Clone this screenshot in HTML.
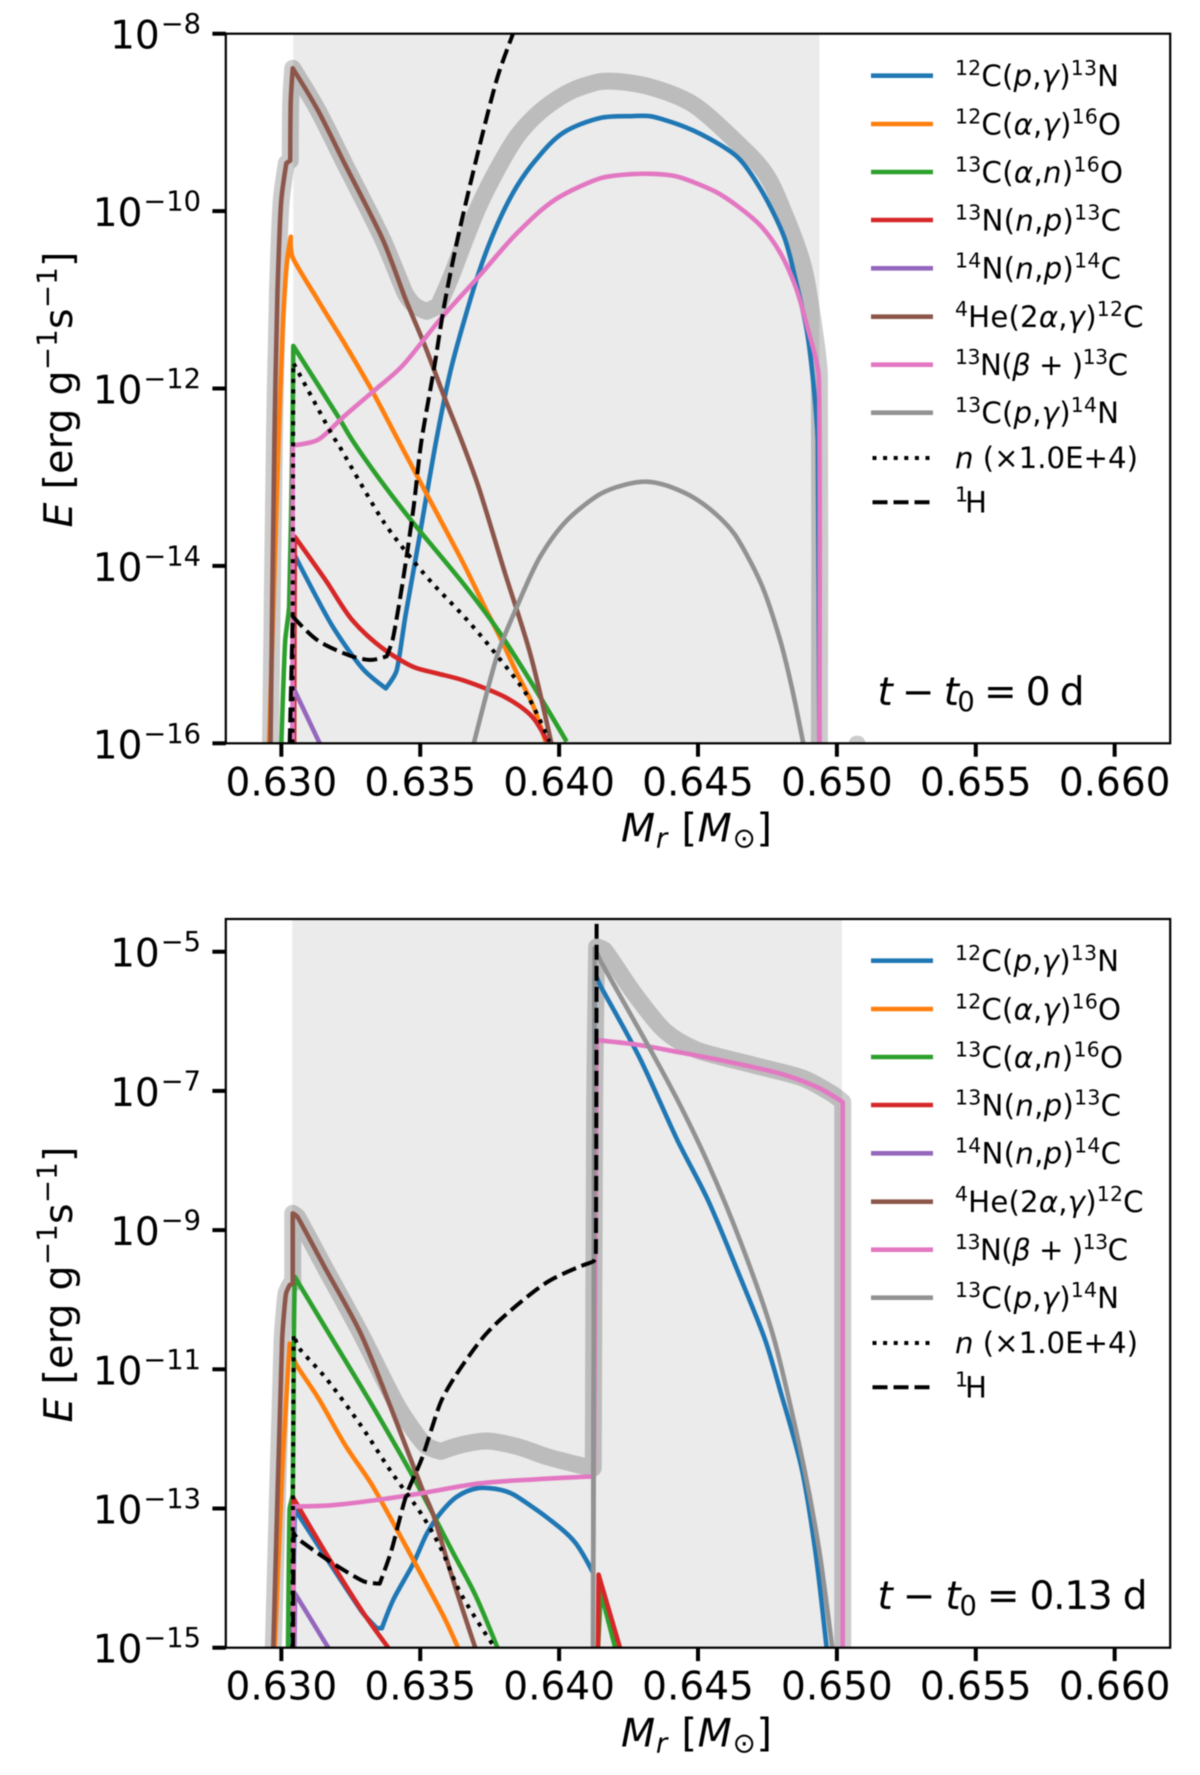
<!DOCTYPE html>
<html lang="en">
<head>
<meta charset="utf-8">
<title>Nuclear energy generation profiles</title>
<style>
html,body{margin:0;padding:0;background:#fff;}
svg{display:block;filter:blur(0.45px);}
text{font-family:"DejaVu Sans","Liberation Sans",sans-serif;fill:#000;}
.i{font-style:italic;}
</style>
</head>
<body>
<svg id="chart" xmlns="http://www.w3.org/2000/svg" width="1200" height="1775" viewBox="0 0 1200 1775">
<g id="plot-layer"></g>

<text transform="translate(72,389.5) rotate(-90)" text-anchor="middle" font-size="39.6" textLength="276"><tspan class="i">E</tspan> [erg g<tspan font-size="27.7" dy="-15.5">−1</tspan><tspan dy="15.5">s</tspan><tspan font-size="27.7" dy="-15.5">−1</tspan><tspan dy="15.5">]</tspan></text>
<text transform="translate(696.5,841.7)" text-anchor="middle" font-size="39.6" textLength="151"><tspan class="i">M</tspan><tspan class="i" font-size="27.7" dy="6">r</tspan><tspan dy="-6"> [</tspan><tspan class="i">M</tspan><tspan font-size="27.7" dy="6">⊙</tspan><tspan dy="-6">]</tspan></text>
<text x="877.5" y="705" font-size="39" textLength="207"><tspan class="i">t</tspan> − <tspan class="i">t</tspan><tspan font-size="27.3" dy="6">0</tspan><tspan dy="-6"> = 0 d</tspan></text>

<text transform="translate(72,1284.5) rotate(-90)" text-anchor="middle" font-size="39.6" textLength="276"><tspan class="i">E</tspan> [erg g<tspan font-size="27.7" dy="-15.5">−1</tspan><tspan dy="15.5">s</tspan><tspan font-size="27.7" dy="-15.5">−1</tspan><tspan dy="15.5">]</tspan></text>
<text transform="translate(696.5,1746.7)" text-anchor="middle" font-size="39.6" textLength="151"><tspan class="i">M</tspan><tspan class="i" font-size="27.7" dy="6">r</tspan><tspan dy="-6"> [</tspan><tspan class="i">M</tspan><tspan font-size="27.7" dy="6">⊙</tspan><tspan dy="-6">]</tspan></text>
<text x="877.5" y="1609" font-size="39" textLength="270"><tspan class="i">t</tspan> − <tspan class="i">t</tspan><tspan font-size="27.3" dy="6">0</tspan><tspan dy="-6"> = 0.13 d</tspan></text>

<g font-size="29.2">
<line x1="871" x2="933" y1="75.7" y2="75.7" stroke="#1f77b4" stroke-width="4.6"/>
<text x="955" y="86" textLength="164"><tspan font-size="20.4" dy="-11">12</tspan><tspan dy="11">C(</tspan><tspan class="i">p</tspan>,<tspan class="i">γ</tspan>)<tspan font-size="20.4" dy="-11">13</tspan><tspan dy="11">N</tspan></text>
<line x1="871" x2="933" y1="124" y2="124" stroke="#ff7f0e" stroke-width="4.6"/>
<text x="955" y="134.3" textLength="166"><tspan font-size="20.4" dy="-11">12</tspan><tspan dy="11">C(</tspan><tspan class="i">α</tspan>,<tspan class="i">γ</tspan>)<tspan font-size="20.4" dy="-11">16</tspan><tspan dy="11">O</tspan></text>
<line x1="871" x2="933" y1="172" y2="172" stroke="#2ca02c" stroke-width="4.6"/>
<text x="955" y="182.3" textLength="168"><tspan font-size="20.4" dy="-11">13</tspan><tspan dy="11">C(</tspan><tspan class="i">α</tspan>,<tspan class="i">n</tspan>)<tspan font-size="20.4" dy="-11">16</tspan><tspan dy="11">O</tspan></text>
<line x1="871" x2="933" y1="220" y2="220" stroke="#d62728" stroke-width="4.6"/>
<text x="955" y="230.3" textLength="166"><tspan font-size="20.4" dy="-11">13</tspan><tspan dy="11">N(</tspan><tspan class="i">n</tspan>,<tspan class="i">p</tspan>)<tspan font-size="20.4" dy="-11">13</tspan><tspan dy="11">C</tspan></text>
<line x1="871" x2="933" y1="268.3" y2="268.3" stroke="#9467bd" stroke-width="4.6"/>
<text x="955" y="278.6" textLength="166"><tspan font-size="20.4" dy="-11">14</tspan><tspan dy="11">N(</tspan><tspan class="i">n</tspan>,<tspan class="i">p</tspan>)<tspan font-size="20.4" dy="-11">14</tspan><tspan dy="11">C</tspan></text>
<line x1="871" x2="933" y1="316.7" y2="316.7" stroke="#8c564b" stroke-width="4.6"/>
<text x="955" y="327" textLength="188.5"><tspan font-size="20.4" dy="-11">4</tspan><tspan dy="11">He(2</tspan><tspan class="i">α</tspan>,<tspan class="i">γ</tspan>)<tspan font-size="20.4" dy="-11">12</tspan><tspan dy="11">C</tspan></text>
<line x1="871" x2="933" y1="364.7" y2="364.7" stroke="#e377c2" stroke-width="4.6"/>
<text x="955" y="375" textLength="173"><tspan font-size="20.4" dy="-11">13</tspan><tspan dy="11">N(</tspan><tspan class="i">β</tspan> + )<tspan font-size="20.4" dy="-11">13</tspan><tspan dy="11">C</tspan></text>
<line x1="871" x2="933" y1="412.7" y2="412.7" stroke="#929292" stroke-width="4.6"/>
<text x="955" y="423" textLength="164"><tspan font-size="20.4" dy="-11">13</tspan><tspan dy="11">C(</tspan><tspan class="i">p</tspan>,<tspan class="i">γ</tspan>)<tspan font-size="20.4" dy="-11">14</tspan><tspan dy="11">N</tspan></text>
<line x1="872.5" x2="930" y1="458" y2="458" stroke="#000" stroke-width="4" stroke-dasharray="4 6.6"/>
<text x="955" y="468" textLength="183"><tspan class="i">n</tspan> (×1.0E+4)</text>
<line x1="872.5" x2="930" y1="502.3" y2="502.3" stroke="#000" stroke-width="4" stroke-dasharray="15 6"/>
<text x="955" y="512.5" textLength="32"><tspan font-size="20.4" dy="-11">1</tspan><tspan dy="11">H</tspan></text>
</g>

<g font-size="29.2" transform="translate(0,885)">
<line x1="871" x2="933" y1="75.7" y2="75.7" stroke="#1f77b4" stroke-width="4.6"/>
<text x="955" y="86" textLength="164"><tspan font-size="20.4" dy="-11">12</tspan><tspan dy="11">C(</tspan><tspan class="i">p</tspan>,<tspan class="i">γ</tspan>)<tspan font-size="20.4" dy="-11">13</tspan><tspan dy="11">N</tspan></text>
<line x1="871" x2="933" y1="124" y2="124" stroke="#ff7f0e" stroke-width="4.6"/>
<text x="955" y="134.3" textLength="166"><tspan font-size="20.4" dy="-11">12</tspan><tspan dy="11">C(</tspan><tspan class="i">α</tspan>,<tspan class="i">γ</tspan>)<tspan font-size="20.4" dy="-11">16</tspan><tspan dy="11">O</tspan></text>
<line x1="871" x2="933" y1="172" y2="172" stroke="#2ca02c" stroke-width="4.6"/>
<text x="955" y="182.3" textLength="168"><tspan font-size="20.4" dy="-11">13</tspan><tspan dy="11">C(</tspan><tspan class="i">α</tspan>,<tspan class="i">n</tspan>)<tspan font-size="20.4" dy="-11">16</tspan><tspan dy="11">O</tspan></text>
<line x1="871" x2="933" y1="220" y2="220" stroke="#d62728" stroke-width="4.6"/>
<text x="955" y="230.3" textLength="166"><tspan font-size="20.4" dy="-11">13</tspan><tspan dy="11">N(</tspan><tspan class="i">n</tspan>,<tspan class="i">p</tspan>)<tspan font-size="20.4" dy="-11">13</tspan><tspan dy="11">C</tspan></text>
<line x1="871" x2="933" y1="268.3" y2="268.3" stroke="#9467bd" stroke-width="4.6"/>
<text x="955" y="278.6" textLength="166"><tspan font-size="20.4" dy="-11">14</tspan><tspan dy="11">N(</tspan><tspan class="i">n</tspan>,<tspan class="i">p</tspan>)<tspan font-size="20.4" dy="-11">14</tspan><tspan dy="11">C</tspan></text>
<line x1="871" x2="933" y1="316.7" y2="316.7" stroke="#8c564b" stroke-width="4.6"/>
<text x="955" y="327" textLength="188.5"><tspan font-size="20.4" dy="-11">4</tspan><tspan dy="11">He(2</tspan><tspan class="i">α</tspan>,<tspan class="i">γ</tspan>)<tspan font-size="20.4" dy="-11">12</tspan><tspan dy="11">C</tspan></text>
<line x1="871" x2="933" y1="364.7" y2="364.7" stroke="#e377c2" stroke-width="4.6"/>
<text x="955" y="375" textLength="173"><tspan font-size="20.4" dy="-11">13</tspan><tspan dy="11">N(</tspan><tspan class="i">β</tspan> + )<tspan font-size="20.4" dy="-11">13</tspan><tspan dy="11">C</tspan></text>
<line x1="871" x2="933" y1="412.7" y2="412.7" stroke="#929292" stroke-width="4.6"/>
<text x="955" y="423" textLength="164"><tspan font-size="20.4" dy="-11">13</tspan><tspan dy="11">C(</tspan><tspan class="i">p</tspan>,<tspan class="i">γ</tspan>)<tspan font-size="20.4" dy="-11">14</tspan><tspan dy="11">N</tspan></text>
<line x1="872.5" x2="930" y1="458" y2="458" stroke="#000" stroke-width="4" stroke-dasharray="4 6.6"/>
<text x="955" y="468" textLength="183"><tspan class="i">n</tspan> (×1.0E+4)</text>
<line x1="872.5" x2="930" y1="502.3" y2="502.3" stroke="#000" stroke-width="4" stroke-dasharray="15 6"/>
<text x="955" y="512.5" textLength="32"><tspan font-size="20.4" dy="-11">1</tspan><tspan dy="11">H</tspan></text>
</g>
</svg>

<script>
// Shared x axis
const xTickValues = [0.630, 0.635, 0.640, 0.645, 0.650, 0.655, 0.660];
const xTickLabels = ["0.630", "0.635", "0.640", "0.645", "0.650", "0.655", "0.660"];

// Top panel: ticks (log10 E) and shaded convective zone (mass)
const yTicksTop = [-8, -10, -12, -14, -16];
const yTickLabelsTop = ["−8", "−10", "−12", "−14", "−16"];
const shadeTop = [0.63043, 0.64937];

// Top panel series: mass coordinate and log10(E)
const massTotalTop = [.62961,.62975,.62986,.63,.63018,.63032,.63034,.63041,.63131,.63227,.63365,.63448,.63482,.63524,.63565,.63607,.63662,.6371,.63779,.63848,.63917,.63986,.64055,.64148,.64217,.64328,.64479,.64631,.64741,.6481,.64879,.64913,.64937,.64937];
const logTotalTop = [-16,-12.58,-10.92,-9.87,-9.46,-9.43,-8.75,-8.39,-8.86,-9.46,-10.32,-10.94,-11.07,-11.13,-11.07,-10.77,-10.32,-9.95,-9.52,-9.16,-8.92,-8.75,-8.63,-8.54,-8.54,-8.6,-8.79,-9.2,-9.57,-10.02,-10.62,-11.22,-11.83,-16];
const massTotalBumpTop = [.6507,.65076];
const logTotalBumpTop = [-16,-16];
const massBlueTop = [.63041,.63048,.63186,.63296,.63376,.63414,.63448,.63489,.63558,.63613,.6371,.63779,.63848,.63917,.64013,.64148,.64259,.64328,.64452,.64562,.64645,.64727,.6481,.64851,.64893,.6492,.64931,.64937];
const logBlueTop = [-16,-13.88,-14.69,-15.17,-15.38,-15.19,-14.54,-13.82,-12.58,-11.75,-10.7,-10.14,-9.72,-9.42,-9.12,-8.95,-8.93,-8.93,-9.05,-9.22,-9.4,-9.76,-10.29,-10.77,-11.37,-12.09,-12.58,-16];
const massOrangeTop = [.62956,.6299,.63007,.63021,.63034,.63039,.63131,.63227,.63324,.6342,.63503,.63586,.63655,.63738,.63793,.63848,.63903,.63951];
const logOrangeTop = [-16,-12.58,-11.19,-10.55,-10.29,-10.51,-11,-11.49,-12.01,-12.58,-13.07,-13.56,-13.97,-14.5,-14.84,-15.21,-15.55,-15.98];
const massGreenTop = [.63,.63014,.63028,.6304,.63043,.63207,.63255,.63365,.63476,.63655,.63779,.63903,.64027];
const logGreenTop = [-16,-14.84,-14.46,-12.5,-11.52,-12.33,-12.58,-13.07,-13.52,-14.2,-14.72,-15.33,-15.98];
const massRedTop = [.63046,.63048,.63159,.63255,.63365,.63476,.63558,.63655,.63806,.63903,.63958];
const logRedTop = [-16,-13.67,-14.16,-14.61,-14.93,-15.14,-15.21,-15.29,-15.48,-15.7,-15.98];
const massPurpleTop = [.6304,.63041,.63138];
const logPurpleTop = [-16,-15.36,-16];
const massBrownTop = [.62961,.62975,.62986,.63,.63018,.63032,.63034,.63041,.63131,.63227,.63365,.63448,.63517,.63586,.63648,.6371,.63806,.63896,.63972];
const logBrownTop = [-16,-12.58,-10.92,-9.87,-9.46,-9.43,-8.75,-8.39,-8.86,-9.46,-10.32,-11,-11.52,-12.09,-12.58,-13.11,-14.09,-14.99,-16];
const massPinkTop = [.6304,.63041,.63131,.63227,.63324,.63434,.63572,.6371,.63848,.63986,.64148,.64231,.64328,.64424,.64562,.64645,.64727,.64796,.64851,.64893,.64934,.64937];
const logPinkTop = [-16,-12.64,-12.58,-12.31,-12.05,-11.75,-11.22,-10.74,-10.25,-9.87,-9.63,-9.59,-9.58,-9.61,-9.78,-9.95,-10.17,-10.47,-10.85,-11.3,-11.83,-16];
const massGrayTop = [.63693,.63779,.63848,.63931,.64027,.64148,.64231,.64314,.64383,.64479,.64562,.64631,.64727,.64796,.64837,.64879];
const logGrayTop = [-16,-14.99,-14.46,-13.9,-13.49,-13.19,-13.09,-13.05,-13.09,-13.22,-13.41,-13.64,-14.2,-14.84,-15.36,-16];
const massNeutronTop = [.6304,.63043,.63186,.63207,.63365,.63469,.63545,.63669,.63779,.63889,.63965];
const logNeutronTop = [-16,-11.71,-12.54,-12.64,-13.49,-13.92,-14.2,-14.61,-15.02,-15.48,-15.98];
const massHydrogenTop = [.6303,.63041,.63131,.63255,.63324,.63379,.634,.63434,.63476,.63503,.63551,.63586,.63634,.6371,.63779,.63834];
const logHydrogenTop = [-16,-14.57,-14.84,-15.02,-15.06,-15.02,-14.84,-14.24,-13.34,-12.62,-11.75,-11.07,-10.32,-9.31,-8.48,-8];

// Bottom panel: ticks and shaded zone
const yTicksBottom = [-5, -7, -9, -11, -13, -15];
const yTickLabelsBottom = ["−5", "−7", "−9", "−11", "−13", "−15"];
const shadeBottom = [0.63039, 0.65018];

// Bottom panel series
const massTotalBottom = [.62971,.63003,.63017,.6303,.63041,.63041,.63058,.63161,.63285,.63423,.63519,.63574,.63643,.6374,.6385,.6396,.64098,.64123,.64128,.64135,.64164,.64274,.64384,.64494,.64701,.6488,.6499,.65021,.65021];
const logTotalBottom = [-15,-10.55,-9.91,-9.79,-9.77,-8.76,-8.81,-9.57,-10.48,-11.56,-12.09,-12.18,-12.09,-12.03,-12.11,-12.26,-12.4,-12.42,-7.13,-4.93,-4.98,-5.62,-6.15,-6.41,-6.63,-6.82,-7.06,-7.16,-15];
const massBlueBottom = [.6304,.63048,.63055,.63175,.63295,.63344,.63362,.63403,.63475,.63524,.63572,.63632,.63704,.63788,.63836,.6396,.64056,.64123,.64128,.6415,.64288,.64426,.64536,.64646,.64742,.64797,.64873,.64921,.64963];
const logBlueBottom = [-15,-13,-13.05,-13.79,-14.51,-14.72,-14.72,-14.31,-13.79,-13.36,-13.07,-12.83,-12.71,-12.73,-12.8,-13.14,-13.48,-13.93,-5.3,-5.5,-6.51,-7.71,-8.57,-9.62,-10.58,-11.32,-12.42,-13.57,-15];
const massOrangeBottom = [.62976,.63004,.63017,.6303,.63051,.63134,.6323,.63326,.63478,.63588,.63636];
const logOrangeBottom = [-15,-12.4,-11.47,-10.63,-10.91,-11.42,-12.09,-12.66,-13.76,-14.58,-15];
const massGreenBottom = [.63024,.6303,.63041,.63045,.63048,.63175,.63326,.63478,.63616,.63698,.63778];
const logGreenBottom = [-15,-13,-12.8,-10.5,-9.67,-10.51,-11.51,-12.57,-13.62,-14.24,-15];
const massGreenSpikeBottom = [.6414,.6415,.64202];
const logGreenSpikeBottom = [-15,-14.2,-15];
const massRedBottom = [.63043,.63043,.63175,.63295,.63385];
const logRedBottom = [-15,-12.85,-13.74,-14.5,-15];
const massRedSpikeBottom = [.6414,.64142,.64219];
const logRedSpikeBottom = [-15,-13.95,-15];
const massPurpleBottom = [.63047,.63049,.63169];
const logPurpleBottom = [-15,-14.22,-15];
const massBrownBottom = [.62971,.63003,.63017,.6303,.63041,.63041,.63058,.63161,.63285,.63395,.63506,.63547,.63616,.63698];
const logBrownBottom = [-15,-10.55,-9.91,-9.79,-9.77,-8.76,-8.81,-9.57,-10.48,-11.56,-12.71,-13.09,-14,-15];
const massPinkBottom = [.63044,.63044,.63066,.63189,.6334,.63506,.63712,.63919,.64118,.64125,.64135,.64288,.64426,.64632,.64812,.64936,.65021,.65021];
const logPinkBottom = [-15,-12.97,-12.97,-12.95,-12.88,-12.78,-12.64,-12.58,-12.54,-12.54,-6.27,-6.34,-6.44,-6.6,-6.77,-6.96,-7.16,-15];
const massGrayBottom = [.64122,.64128,.6415,.64329,.64426,.64536,.6466,.6477,.6488,.64935,.64983];
const logGrayBottom = [-15,-4.95,-5.14,-6.41,-7.13,-8.04,-9.24,-10.51,-12.38,-13.57,-15];
const massNeutronBottom = [.6304,.63044,.63065,.63161,.63285,.63395,.63506,.63574,.63643,.63753,.6377];
const logNeutronBottom = [-15,-10.5,-10.7,-11.13,-11.8,-12.47,-13.09,-13.57,-14.2,-14.91,-15];
const massHydrogenBottom = [.63042,.63044,.63058,.63175,.63299,.63354,.63395,.6345,.63506,.63574,.63629,.63733,.63836,.6396,.6407,.64123,.64132,.64135];
const logHydrogenBottom = [-15,-13.35,-13.43,-13.76,-14.05,-14.08,-13.62,-12.81,-12.28,-11.47,-11.08,-10.51,-10.12,-9.74,-9.53,-9.45,-9.4,-4.4];

const SVGNS = 'http://www.w3.org/2000/svg';
const layer = document.getElementById('plot-layer');

function makeAxes(frame) {
  return {
    frame: frame,
    x: function (m) { return frame.left + (m - frame.xMin) / (frame.xMax - frame.xMin) * (frame.right - frame.left); },
    y: function (v) { return frame.bottom - (v - frame.yMin) / (frame.yMax - frame.yMin) * (frame.bottom - frame.top); }
  };
}

const axesTop = makeAxes({ left: 225.8, right: 1170.2, top: 33.7, bottom: 743.3, xMin: 0.628, xMax: 0.662, yMin: -16, yMax: -8 });
const axesBottom = makeAxes({ left: 225.8, right: 1170.2, top: 919, bottom: 1647.7, xMin: 0.628, xMax: 0.662, yMin: -15, yMax: -4.53 });

// Smooth path through the read-off points; sharp corners stay sharp and
// handle lengths are limited by the shorter neighbouring segment so long
// straight runs next to a short step do not bulge.
function smoothPath(pts) {
  const segs = [];
  for (let i = 1; i < pts.length; i++) {
    segs.push(Math.hypot(pts[i][0] - pts[i - 1][0], pts[i][1] - pts[i - 1][1]));
  }
  const tangents = pts.map(function (p, i) {
    if (i === 0 || i === pts.length - 1) return null;
    const a = pts[i - 1], b = pts[i + 1];
    const ax = p[0] - a[0], ay = p[1] - a[1], bx = b[0] - p[0], by = b[1] - p[1];
    const la = segs[i - 1], lb = segs[i];
    if (la < 1e-6 || lb < 1e-6) return null;
    const cos = (ax * bx + ay * by) / (la * lb);
    if (cos < Math.cos(40 * Math.PI / 180)) return null;
    const tx = ax / la + bx / lb, ty = ay / la + by / lb;
    const l = Math.hypot(tx, ty);
    return [tx / l, ty / l];
  });
  let d = 'M' + pts[0][0].toFixed(2) + ' ' + pts[0][1].toFixed(2);
  for (let i = 1; i < pts.length; i++) {
    const p0 = pts[i - 1], p1 = pts[i];
    const here = segs[i - 1];
    const len0 = Math.min(here, i >= 2 ? segs[i - 2] : here) / 3;
    const len1 = Math.min(here, i < segs.length ? segs[i] : here) / 3;
    const t0 = tangents[i - 1], t1 = tangents[i];
    const c0 = t0 ? [p0[0] + t0[0] * len0, p0[1] + t0[1] * len0] : p0;
    const c1 = t1 ? [p1[0] - t1[0] * len1, p1[1] - t1[1] * len1] : p1;
    d += 'C' + c0[0].toFixed(2) + ' ' + c0[1].toFixed(2) + ' ' + c1[0].toFixed(2) + ' ' + c1[1].toFixed(2) + ' ' + p1[0].toFixed(2) + ' ' + p1[1].toFixed(2);
  }
  return d;
}

function drawSeries(group, axes, masses, logs, seriesName, color, width, dash, cap) {
  const pts = masses.map(function (m, i) { return [axes.x(m), axes.y(logs[i])]; });
  const path = document.createElementNS(SVGNS, 'path');
  path.setAttribute('d', smoothPath(pts));
  path.setAttribute('fill', 'none');
  path.setAttribute('stroke', color);
  path.setAttribute('stroke-width', width);
  path.setAttribute('stroke-linejoin', 'round');
  path.setAttribute('stroke-linecap', cap || 'butt');
  if (dash) path.setAttribute('stroke-dasharray', dash);
  
  
  group.appendChild(path);
}

function drawPanel(axes, clipId, suffix, shade, yTicks, yTickLabels, seriesDraw) {
  const f = axes.frame;
  const defs = document.createElementNS(SVGNS, 'clipPath');
  defs.setAttribute('id', clipId);
  const clipRect = document.createElementNS(SVGNS, 'rect');
  clipRect.setAttribute('x', f.left);
  clipRect.setAttribute('y', f.top);
  clipRect.setAttribute('width', f.right - f.left);
  clipRect.setAttribute('height', f.bottom - f.top);
  defs.appendChild(clipRect);
  layer.appendChild(defs);

  const panel = document.createElementNS(SVGNS, 'g');
  
  
  layer.appendChild(panel);

  const band = document.createElementNS(SVGNS, 'rect');
  band.setAttribute('x', axes.x(shade[0]));
  band.setAttribute('y', f.top);
  band.setAttribute('width', axes.x(shade[1]) - axes.x(shade[0]));
  band.setAttribute('height', f.bottom - f.top);
  band.setAttribute('fill', '#000');
  band.setAttribute('fill-opacity', '0.08');
  
  
  panel.appendChild(band);

  const marks = document.createElementNS(SVGNS, 'g');
  marks.setAttribute('clip-path', 'url(#' + clipId + ')');
  
  
  panel.appendChild(marks);
  seriesDraw(marks);

  const spine = document.createElementNS(SVGNS, 'rect');
  spine.setAttribute('x', f.left);
  spine.setAttribute('y', f.top);
  spine.setAttribute('width', f.right - f.left);
  spine.setAttribute('height', f.bottom - f.top);
  spine.setAttribute('fill', 'none');
  spine.setAttribute('stroke', '#000');
  spine.setAttribute('stroke-width', '2.2');
  
  
  panel.appendChild(spine);

  xTickValues.forEach(function (v, i) {
    const px = axes.x(v);
    const tick = document.createElementNS(SVGNS, 'line');
    tick.setAttribute('x1', px);
    tick.setAttribute('x2', px);
    tick.setAttribute('y1', f.bottom);
    tick.setAttribute('y2', f.bottom + 13.4);
    tick.setAttribute('stroke', '#000');
    tick.setAttribute('stroke-width', '4');
    
    
    panel.appendChild(tick);
    const label = document.createElementNS(SVGNS, 'text');
    label.setAttribute('x', px);
    label.setAttribute('y', f.bottom + 52);
    label.setAttribute('text-anchor', 'middle');
    label.setAttribute('font-size', '39');
    label.textContent = xTickLabels[i];
    
    
    panel.appendChild(label);
  });

  yTicks.forEach(function (v, i) {
    const py = axes.y(v);
    const tick = document.createElementNS(SVGNS, 'line');
    tick.setAttribute('x1', f.left - 13.4);
    tick.setAttribute('x2', f.left);
    tick.setAttribute('y1', py);
    tick.setAttribute('y2', py);
    tick.setAttribute('stroke', '#000');
    tick.setAttribute('stroke-width', '4');
    
    
    panel.appendChild(tick);
    const label = document.createElementNS(SVGNS, 'text');
    label.setAttribute('x', 201);
    label.setAttribute('y', py + 15);
    label.setAttribute('text-anchor', 'end');
    label.setAttribute('font-size', '39');
    label.appendChild(document.createTextNode('10'));
    const sup = document.createElementNS(SVGNS, 'tspan');
    sup.setAttribute('font-size', '27.3');
    sup.setAttribute('dy', '-15.5');
    sup.setAttribute('dx', '1');
    sup.textContent = yTickLabels[i];
    label.appendChild(sup);
    
    
    panel.appendChild(label);
  });
}

const COLOR_TOTAL = 'rgba(0,0,0,0.2)';
const W = 4.6;

drawPanel(axesTop, 'clip-top', 'top', shadeTop, yTicksTop, yTickLabelsTop, function (g) {
  drawSeries(g, axesTop, massTotalTop, logTotalTop, 'total-energy-line', COLOR_TOTAL, 17);
  drawSeries(g, axesTop, massTotalBumpTop, logTotalBumpTop, 'total-energy-bump', COLOR_TOTAL, 15, null, 'round');
  drawSeries(g, axesTop, massBlueTop, logBlueTop, 'line-12c-pg', '#1f77b4', W);
  drawSeries(g, axesTop, massOrangeTop, logOrangeTop, 'line-12c-ag', '#ff7f0e', W);
  drawSeries(g, axesTop, massGreenTop, logGreenTop, 'line-13c-an', '#2ca02c', W);
  drawSeries(g, axesTop, massRedTop, logRedTop, 'line-13n-np', '#d62728', W);
  drawSeries(g, axesTop, massPurpleTop, logPurpleTop, 'line-14n-np', '#9467bd', W);
  drawSeries(g, axesTop, massBrownTop, logBrownTop, 'line-4he-2ag', '#8c564b', W);
  drawSeries(g, axesTop, massPinkTop, logPinkTop, 'line-13n-beta', '#e377c2', W);
  drawSeries(g, axesTop, massGrayTop, logGrayTop, 'line-13c-pg', '#929292', W);
  drawSeries(g, axesTop, massNeutronTop, logNeutronTop, 'line-neutron', '#000', 4, '4 6.6');
  drawSeries(g, axesTop, massHydrogenTop, logHydrogenTop, 'line-hydrogen', '#000', 4, '15 6');
});

drawPanel(axesBottom, 'clip-bottom', 'bottom', shadeBottom, yTicksBottom, yTickLabelsBottom, function (g) {
  drawSeries(g, axesBottom, massTotalBottom, logTotalBottom, 'total-energy-line', COLOR_TOTAL, 17);
  drawSeries(g, axesBottom, massBlueBottom, logBlueBottom, 'line-12c-pg', '#1f77b4', W);
  drawSeries(g, axesBottom, massOrangeBottom, logOrangeBottom, 'line-12c-ag', '#ff7f0e', W);
  drawSeries(g, axesBottom, massGreenBottom, logGreenBottom, 'line-13c-an', '#2ca02c', W);
  drawSeries(g, axesBottom, massGreenSpikeBottom, logGreenSpikeBottom, 'line-13c-an-spike', '#2ca02c', W);
  drawSeries(g, axesBottom, massRedBottom, logRedBottom, 'line-13n-np', '#d62728', W);
  drawSeries(g, axesBottom, massRedSpikeBottom, logRedSpikeBottom, 'line-13n-np-spike', '#d62728', W);
  drawSeries(g, axesBottom, massPurpleBottom, logPurpleBottom, 'line-14n-np', '#9467bd', W);
  drawSeries(g, axesBottom, massBrownBottom, logBrownBottom, 'line-4he-2ag', '#8c564b', W);
  drawSeries(g, axesBottom, massPinkBottom, logPinkBottom, 'line-13n-beta', '#e377c2', W);
  drawSeries(g, axesBottom, massGrayBottom, logGrayBottom, 'line-13c-pg', '#929292', W);
  drawSeries(g, axesBottom, massNeutronBottom, logNeutronBottom, 'line-neutron', '#000', 4, '4 6.6');
  drawSeries(g, axesBottom, massHydrogenBottom, logHydrogenBottom, 'line-hydrogen', '#000', 4, '15 6');
});
</script>
</body>
</html>
